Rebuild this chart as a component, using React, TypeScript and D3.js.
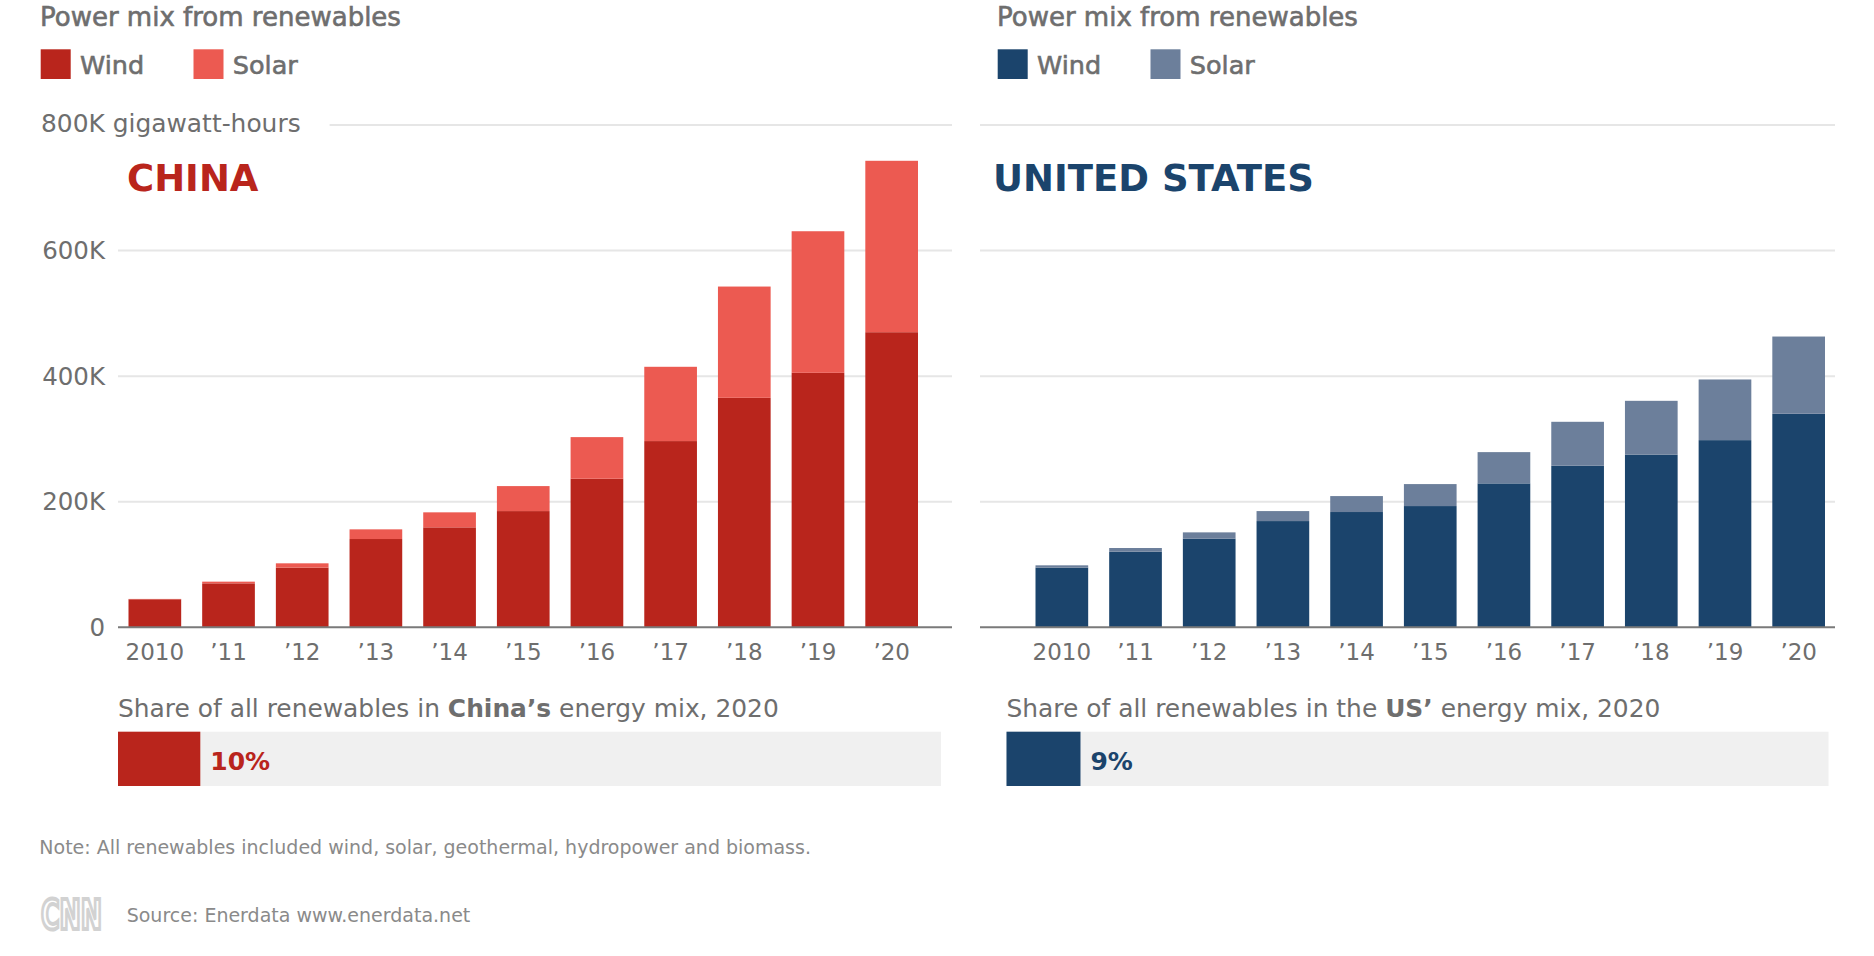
import React, { useRef, useEffect } from 'react';
import * as d3 from 'd3';

// Years on the x axis
const years = ['2010', '’11', '’12', '’13', '’14', '’15', '’16', '’17', '’18', '’19', '’20'];

// Generation in thousand gigawatt-hours
const chinaWind = [44.6, 70.0, 95.0, 140.6, 159.2, 185.1, 236.6, 296.6, 365.5, 405.3, 470.0];
const chinaSolar = [0.6, 2.7, 6.9, 15.4, 23.9, 39.8, 66.3, 118.3, 177.2, 225.5, 273.0];
const usWind = [95.0, 120.4, 141.1, 169.2, 183.6, 193.1, 229.2, 257.3, 274.8, 298.1, 340.1];
const usSolar = [3.7, 5.9, 10.1, 15.9, 25.4, 35.0, 49.8, 70.0, 85.9, 96.6, 123.0];

const yTicks = [0, 200, 400, 600, 800];
const yTickLabels = ['0', '200K', '400K', '600K', '800K'];
const unitLabel = 'gigawatt-hours';
const seriesNames = ['Wind', 'Solar'];

// Share of all renewables in the energy mix, 2020 (%)
const chinaShare = 10;
const usShare = 9;

const WIDTH = 1874;
const HEIGHT = 956;
const FONT = '"DejaVu Sans", Verdana, sans-serif';
const GREY = '#6e6e6e';

interface Panel {
  name: string;
  wind: number[];
  solar: number[];
  share: number;
  colors: [string, string];
  left: number;
  nameX: number;
  axis: [number, number];
  band: [number, number];
  shareRange: [number, number];
  shareText: [string, string, string];
  showY: boolean;
}

const panels: Panel[] = [
  {
    name: 'CHINA',
    wind: chinaWind,
    solar: chinaSolar,
    share: chinaShare,
    colors: ['#b9251c', '#ec5a51'],
    left: 40,
    nameX: 127,
    axis: [118, 952],
    band: [118, 928.5],
    shareRange: [118, 941],
    shareText: ['Share of all renewables in ', 'China’s', ' energy mix, 2020'],
    showY: true,
  },
  {
    name: 'UNITED STATES',
    wind: usWind,
    solar: usSolar,
    share: usShare,
    colors: ['#1b446c', '#6c7f9b'],
    left: 997,
    nameX: 993,
    axis: [980, 1835],
    band: [1025, 1835.5],
    shareRange: [1006.5, 1828.5],
    shareText: ['Share of all renewables in the ', 'US’', ' energy mix, 2020'],
    showY: false,
  },
];

const App: React.FC = () => {
  const svgRef = useRef<SVGSVGElement | null>(null);

  useEffect(() => {
    if (!svgRef.current) return;
    const svg = d3.select(svgRef.current);
    svg.selectAll('*').remove();
    svg.attr('font-family', FONT);

    const y = d3.scaleLinear().domain([0, 800]).range([627.3, 125]);

    panels.forEach((p) => {
      const g = svg.append('g');

      // heading + legend (a thin stroke gives them a medium weight)
      g.append('text')
        .attr('x', p.left)
        .attr('y', 25.5)
        .attr('font-size', 26)
        .attr('fill', GREY)
        .attr('stroke', GREY)
        .attr('stroke-width', 0.6)
        .text('Power mix from renewables');

      const legend = g
        .selectAll('g.legend')
        .data(seriesNames)
        .join('g')
        .attr('class', 'legend')
        .attr('transform', (d, i) => `translate(${p.left + 0.7 + i * 152.8}, 49.3)`);
      legend
        .append('rect')
        .attr('width', 30)
        .attr('height', 29.7)
        .attr('fill', (d, i) => p.colors[i]);
      legend
        .append('text')
        .attr('x', 39.3)
        .attr('y', 24.7)
        .attr('font-size', 25.5)
        .attr('fill', GREY)
        .attr('stroke', GREY)
        .attr('stroke-width', 0.6)
        .text((d) => d);

      // gridlines
      const grid = g
        .selectAll('line.grid')
        .data(yTicks.filter((t) => t > 0))
        .join('line')
        .attr('class', 'grid')
        .attr('x1', p.axis[0])
        .attr('x2', p.axis[1])
        .attr('y1', (d) => y(d))
        .attr('y2', (d) => y(d))
        .attr('stroke', '#e6e6e6')
        .attr('stroke-width', 2);

      // y labels
      if (p.showY) {
        const top = yTicks[yTicks.length - 1];
        g.selectAll('text.ylab')
          .data(yTicks.slice(0, -1))
          .join('text')
          .attr('class', 'ylab')
          .attr('x', 105)
          .attr('y', (d) => y(d))
          .attr('dy', '0.35em')
          .attr('text-anchor', 'end')
          .attr('font-size', 24.5)
          .attr('fill', GREY)
          .text((d) => yTickLabels[yTicks.indexOf(d)]);
        const topLabel = g
          .append('text')
          .attr('x', 41)
          .attr('y', y(top))
          .attr('dy', '0.3em')
          .attr('font-size', 24.9)
          .attr('fill', GREY)
          .text(`${yTickLabels[yTickLabels.length - 1]} ${unitLabel}`);
        const labelEnd = 41 + (topLabel.node() as SVGTextElement).getComputedTextLength();
        grid.filter((d) => d === top).attr('x1', labelEnd + 29);
      }

      // stacked bars
      const x = d3.scaleBand<string>().domain(years).range(p.band).paddingInner(0.285).paddingOuter(0.1425);
      const rows = years.map((year, i) => ({ year, wind: p.wind[i], solar: p.solar[i] }));
      const stacked = d3.stack<any>().keys(['wind', 'solar'])(rows);
      g.selectAll('g.layer')
        .data(stacked)
        .join('g')
        .attr('class', 'layer')
        .attr('fill', (d, i) => p.colors[i])
        .selectAll('rect')
        .data((d) => d)
        .join('rect')
        .attr('x', (d: any) => x(d.data.year) as number)
        .attr('y', (d) => y(d[1]))
        .attr('width', x.bandwidth())
        .attr('height', (d) => y(d[0]) - y(d[1]));

      // baseline
      g.append('line')
        .attr('x1', p.axis[0])
        .attr('x2', p.axis[1])
        .attr('y1', y(0))
        .attr('y2', y(0))
        .attr('stroke', '#7a7a7a')
        .attr('stroke-width', 2);

      // x axis labels
      const xAxis = g
        .append('g')
        .attr('transform', `translate(0, ${y(0)})`)
        .call(d3.axisBottom(x).tickSize(0));
      xAxis.select('.domain').remove();
      xAxis
        .attr('font-family', FONT)
        .attr('font-size', 23)
        .selectAll('text')
        .attr('y', 32.3)
        .attr('dy', 0)
        .attr('fill', GREY);

      // country name
      g.append('text')
        .attr('x', p.nameX)
        .attr('y', 190.7)
        .attr('font-size', 37)
        .attr('font-weight', 'bold')
        .attr('fill', p.colors[0])
        .text(p.name);

      // share of renewables bar
      const shareText = g
        .append('text')
        .attr('x', p.shareRange[0])
        .attr('y', 716.7)
        .attr('font-size', 24.9)
        .attr('fill', GREY);
      shareText.append('tspan').text(p.shareText[0]);
      shareText.append('tspan').attr('font-weight', 'bold').text(p.shareText[1]);
      shareText.append('tspan').text(p.shareText[2]);

      const s = d3.scaleLinear().domain([0, 100]).range(p.shareRange);
      g.append('rect')
        .attr('x', s(0))
        .attr('y', 731.7)
        .attr('width', s(100) - s(0))
        .attr('height', 54.3)
        .attr('fill', '#f0f0f0');
      g.append('rect')
        .attr('x', s(0))
        .attr('y', 731.7)
        .attr('width', s(p.share) - s(0))
        .attr('height', 54.3)
        .attr('fill', p.colors[0]);
      g.append('text')
        .attr('x', s(p.share) + 10)
        .attr('y', 770)
        .attr('font-size', 25)
        .attr('font-weight', 'bold')
        .attr('fill', p.colors[0])
        .text(`${p.share}%`);
    });

    // footnotes
    svg
      .append('text')
      .attr('x', 39.3)
      .attr('y', 854.3)
      .attr('font-size', 19)
      .attr('fill', '#8a8a8a')
      .text('Note: All renewables included wind, solar, geothermal, hydropower and biomass.');

    svg
      .append('text')
      .attr('x', 41)
      .attr('y', 928.5)
      .attr('font-size', 40)
      .attr('font-weight', 'bold')
      .attr('textLength', 61)
      .attr('lengthAdjust', 'spacingAndGlyphs')
      .attr('fill', 'none')
      .attr('stroke', '#d2d2d2')
      .attr('stroke-width', 4)
      .text('CNN');

    svg
      .append('text')
      .attr('x', 126.7)
      .attr('y', 921.7)
      .attr('font-size', 19)
      .attr('fill', '#8a8a8a')
      .text('Source: Enerdata www.enerdata.net');
  }, []);

  return (
    <svg
      ref={svgRef}
      width={WIDTH}
      height={HEIGHT}
      style={{ position: 'absolute', left: 0, top: 0, background: '#fff', display: 'block' }}
    />
  );
};

export default App;
